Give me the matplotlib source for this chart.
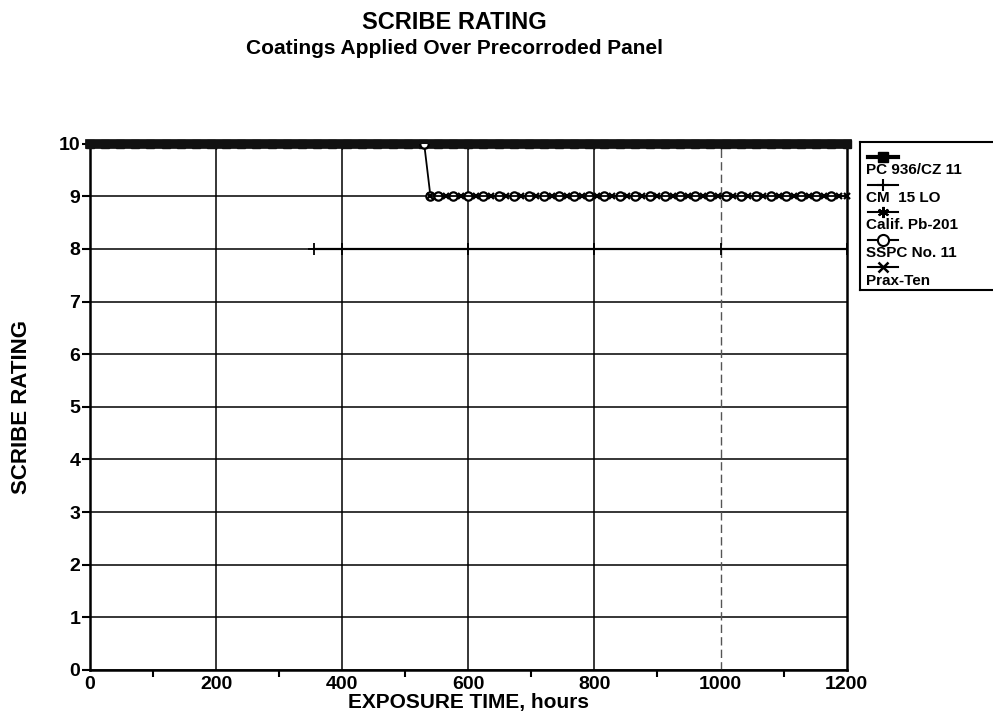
import matplotlib.pyplot as plt
from matplotlib.lines import Line2D

# inspection times (hours)
hours_all = [0, 24, 48, 72, 96, 120, 144, 168, 192, 216, 240, 264, 288, 312,
             336, 360, 384, 408, 432, 456, 480, 504, 528, 552, 576, 600, 624,
             648, 672, 696, 720, 744, 768, 792, 816, 840, 864, 888, 912, 936,
             960, 984, 1008, 1032, 1056, 1080, 1104, 1128, 1152, 1176, 1200]
sspc_late = [552, 576, 600, 624, 648, 672, 696, 720, 744, 768, 792, 816, 840,
             864, 888, 912, 936, 960, 984, 1008, 1032, 1056, 1080, 1104, 1128,
             1152, 1176]
prax_hours = [540, 564, 588, 612, 636, 660, 684, 708, 732, 756, 780, 804, 828,
              852, 876, 900, 924, 948, 972, 996, 1020, 1044, 1068, 1092, 1116,
              1140, 1164, 1188, 1200]

pc936 = [10] * len(hours_all)
calif_hours = [0, 200, 400, 600, 800, 1000, 1200]
calif = [10, 10, 10, 10, 10, 10, 10]
cm15_hours = [355, 400, 600, 800, 1000, 1200]
cm15 = [8, 8, 8, 8, 8, 8]
sspc_hours = [530, 540] + sspc_late
sspc = [10, 9] + [9] * len(sspc_late)
prax = [9] * len(prax_hours)

labels = ['PC 936/CZ 11', 'CM  15 LO', 'Calif. Pb-201', 'SSPC No. 11', 'Prax-Ten']

plt.rcParams['font.family'] = ['Liberation Sans', 'DejaVu Sans']
plt.rcParams['font.weight'] = 'bold'

fig = plt.figure(figsize=(9.93, 7.15), dpi=100)
ax = fig.add_axes([0.0906, 0.063, 0.762, 0.736])

# grid
for y in range(0, 11):
    ax.axhline(y, color='black', lw=1.1, zorder=1)
for x in [200, 400, 600, 800]:
    ax.axvline(x, color='black', lw=1.1, zorder=1)
ax.axvline(1000, color='#555555', lw=1.0, ls=(0, (6, 3)), zorder=1)

ax.plot(hours_all, pc936, color='#111111', lw=7, marker='s', ms=6,
        clip_on=False, zorder=3)
ax.plot(calif_hours, calif, color='black', lw=1.5, marker=(6, 2, 0), ms=7, zorder=2)
ax.plot(cm15_hours, cm15, color='black', lw=1.6, marker='+', ms=9, mew=1.3, zorder=3)
ax.plot(sspc_hours, sspc, color='black', lw=1.3, marker='o', ms=6,
        mfc='white', mew=1.6, zorder=4)
ax.plot(prax_hours, prax, color='black', lw=1.3, marker='x', ms=5, mew=1.6,
        zorder=5, clip_on=False)

ax.set_xlim(0, 1200)
ax.set_ylim(0, 10)
ax.set_xticks([0, 200, 400, 600, 800, 1000, 1200])
ax.set_xticks([100, 300, 500, 700, 900, 1100], minor=True)
ax.set_yticks(range(0, 11))
ax.tick_params(axis='both', which='major', labelsize=14, width=1.5, length=6)
ax.tick_params(axis='x', which='major', length=0, pad=4)
ax.tick_params(axis='x', which='minor', length=5, width=1.5)
ax.tick_params(axis='y', pad=1)
for s in ax.spines.values():
    s.set_linewidth(1.8)

ax.set_xlabel('EXPOSURE TIME, hours', fontsize=15, fontweight='bold', labelpad=0)
ax.set_ylabel('SCRIBE RATING', fontsize=16, fontweight='bold')
ax.yaxis.set_label_coords(-0.076, 0.5)

fig.text(0.458, 0.968, 'SCRIBE RATING', ha='center', va='center',
         fontsize=17, fontweight='bold')
fig.text(0.458, 0.932, 'Coatings Applied Over Precorroded Panel', ha='center',
         va='center', fontsize=15, fontweight='bold')

# legend box drawn by hand (sample above label)
lg = fig.add_axes([0.866, 0.594, 0.16, 0.207])
lg.set_xlim(0, 1)
lg.set_ylim(0, 1)
lg.set_xticks([])
lg.set_yticks([])
for s in lg.spines.values():
    s.set_linewidth(1.5)
styles = [dict(marker='s', ms=7),
          dict(marker='+', ms=9, mew=1.5),
          dict(marker=(6, 2, 0), ms=8, mew=1.5),
          dict(marker='o', ms=8, mfc='white', mew=1.5),
          dict(marker='x', ms=7, mew=1.8)]
widths = [3, 1.5, 1.5, 1.5, 1.5]
for i, (lab, st, w) in enumerate(zip(labels, styles, widths)):
    yh = 0.9 - i * 0.186
    lg.add_line(Line2D([0.05, 0.24], [yh, yh], color='black', lw=w))
    lg.plot([0.145], [yh], color='black', ls='none', **st)
    lg.text(0.04, yh - 0.09, lab, fontsize=11, fontweight='bold', va='center')

fig.savefig('out.png', dpi=100)
